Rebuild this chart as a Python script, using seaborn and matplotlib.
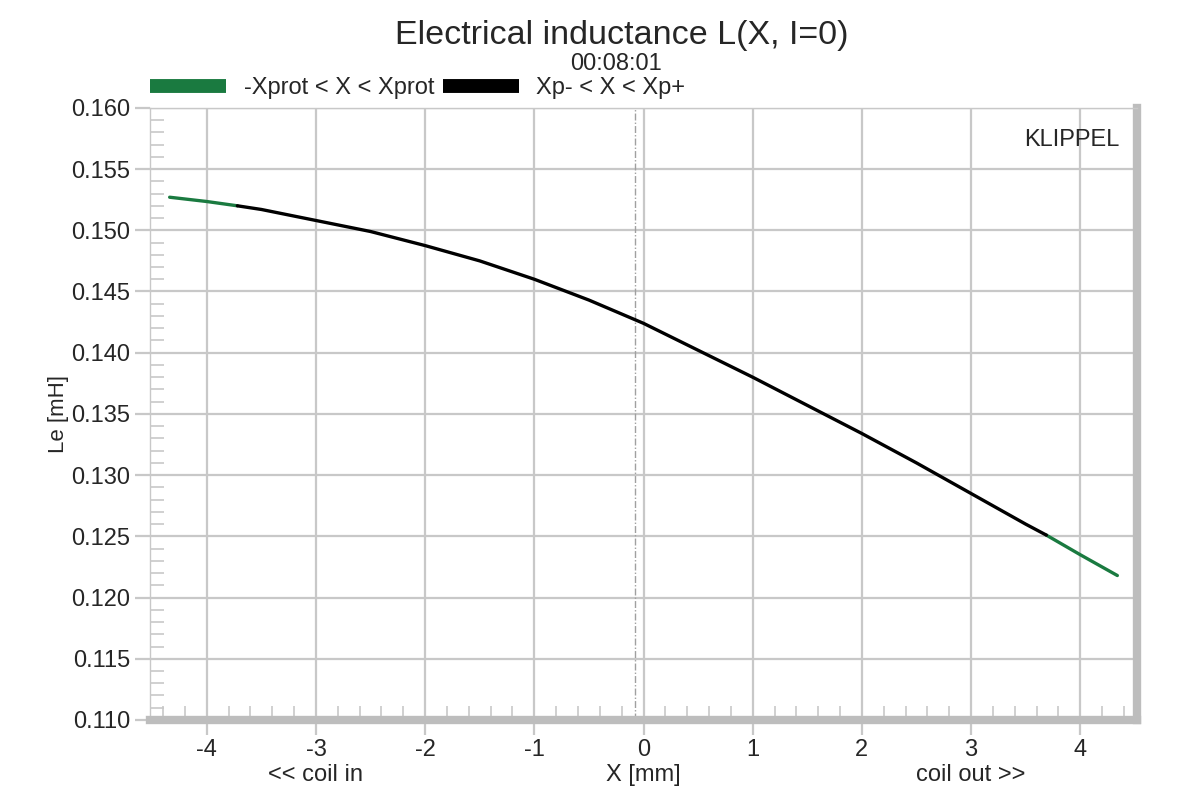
import matplotlib
matplotlib.use("Agg")
import matplotlib.pyplot as plt
import seaborn as sns
import pandas as pd
from matplotlib.lines import Line2D
from matplotlib.ticker import MultipleLocator, FormatStrFormatter
import matplotlib.transforms as mtransforms

# ------------------------------------
# DATA
# ------------------------------------
x_vals = [-4.34, -4.0, -3.72, -3.5, -3.0, -2.5, -2.0, -1.5, -1.0, -0.5, 0.0,
          0.5, 1.0, 1.5, 2.0, 2.5, 3.0, 3.5, 3.69, 4.0, 4.34]
le_vals = [0.1527, 0.15235, 0.1520, 0.1517, 0.1508, 0.1499, 0.14875, 0.1475,
           0.1460, 0.1443, 0.1424, 0.1402, 0.1380, 0.1357, 0.1334, 0.1310,
           0.1285, 0.1260, 0.1251, 0.1235, 0.1218]
xp_minus = -3.72
xp_plus = 3.69
x_rest = -0.08

df = pd.DataFrame({"x": x_vals, "le": le_vals})

GREEN = "#1a7a40"
GRID = "#c8c8c8"

sns.set_style("white")
plt.rcParams["font.family"] = ["Liberation Sans", "DejaVu Sans"]
plt.rcParams["axes.unicode_minus"] = False

fig = plt.figure(figsize=(12, 7.96), dpi=100)
ax = fig.add_axes([0.125, 0.0955, 0.8225, 0.769])

# protected range (green) and working range (black)
left_part = df[df["x"] <= xp_minus]
mid_part = df[(df["x"] >= xp_minus) & (df["x"] <= xp_plus)]
right_part = df[df["x"] >= xp_plus]
sns.lineplot(data=left_part, x="x", y="le", color=GREEN, lw=2.4, ax=ax, zorder=4)
sns.lineplot(data=right_part, x="x", y="le", color=GREEN, lw=2.4, ax=ax, zorder=4)
sns.lineplot(data=mid_part, x="x", y="le", color="black", lw=2.4, ax=ax, zorder=5)

ax.axvline(x_rest, color="#a0a0a0", lw=1, ls=(0, (5, 1.5, 1, 1.5)), zorder=2)

ax.set_xlim(-4.52, 4.52)
ax.set_ylim(0.110, 0.160)
ax.xaxis.set_major_locator(MultipleLocator(1))
ax.xaxis.set_minor_locator(MultipleLocator(0.2))
ax.yaxis.set_major_locator(MultipleLocator(0.005))
ax.yaxis.set_minor_locator(MultipleLocator(0.001))
ax.yaxis.set_major_formatter(FormatStrFormatter("%.3f"))
ax.xaxis.set_major_formatter(FormatStrFormatter("%d"))
ax.grid(True, which="major", color=GRID, lw=1.6)

ax.tick_params(which="both", bottom=True, left=True)
ax.tick_params(axis="both", which="major", direction="out", length=11, width=1.6,
               color=GRID, labelsize=17, pad=3)
ax.tick_params(axis="both", which="minor", direction="in", length=10, width=1.2, color=GRID)

for side in ["top", "left"]:
    ax.spines[side].set_color(GRID)
    ax.spines[side].set_linewidth(1)
for side in ["bottom", "right"]:
    ax.spines[side].set_color("#bdbdbd")
    ax.spines[side].set_linewidth(6)

ax.set_xlabel("")
ax.set_ylabel("Le [mH]", fontsize=16, labelpad=2)

# labels under the x axis
trans = mtransforms.blended_transform_factory(ax.transData, fig.transFigure)
ax.text(-3.0, 0.027, "<< coil in", transform=trans, ha="center", va="center", fontsize=17)
ax.text(0.0, 0.027, "X [mm]", transform=trans, ha="center", va="center", fontsize=17)
ax.text(3.0, 0.027, "coil out >>", transform=trans, ha="center", va="center", fontsize=17)

ax.text(0.934, 0.948, "KLIPPEL", transform=ax.transAxes, ha="center", va="center", fontsize=17)

fig.text(0.518, 0.9447, "Electrical inductance L(X, I=0)", ha="center", va="baseline",
         fontsize=24.5)
fig.text(0.5135, 0.912, "00:08:01", ha="center", va="baseline", fontsize=17)

handles = [Line2D([], [], color=GREEN, lw=10, solid_capstyle="butt"),
           Line2D([], [], color="black", lw=10, solid_capstyle="butt")]
fig.legend(handles, ["-Xprot < X < Xprot", "Xp- < X < Xp+"], loc="center left",
           bbox_to_anchor=(0.125, 0.889), ncol=2, frameon=False, fontsize=17,
           handlelength=3.2, handletextpad=0.76, columnspacing=0.38,
           borderaxespad=0, borderpad=0)

fig.savefig("out.png", dpi=100)
